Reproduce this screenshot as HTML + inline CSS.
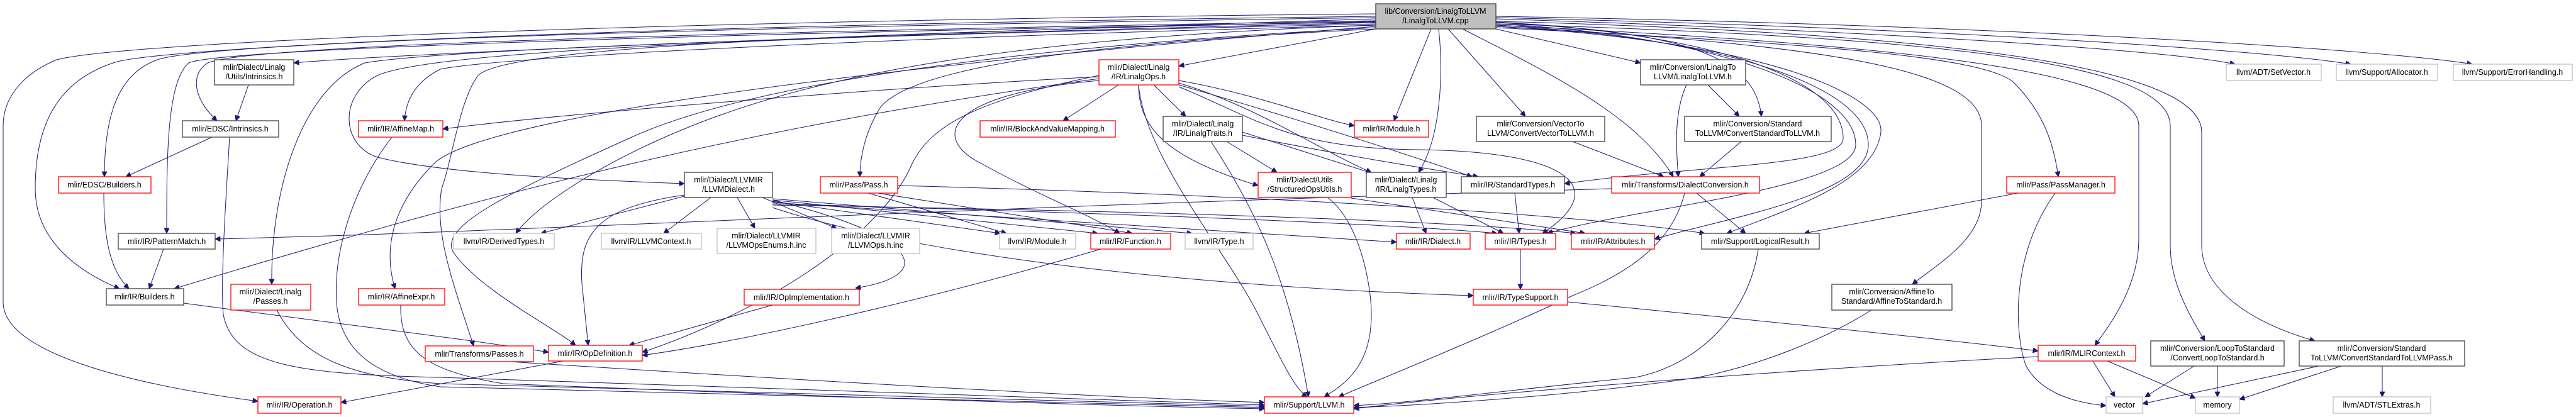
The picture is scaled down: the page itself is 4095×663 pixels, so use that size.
<!DOCTYPE html>
<html><head><meta charset="utf-8"><style>
html,body{margin:0;padding:0;background:#fff;}
svg{display:block;}
text{font-family:"Liberation Sans",Arial,sans-serif;font-size:12.5px;fill:#000;text-anchor:middle;}
.r{fill:#fff;stroke:#ff0000;stroke-width:1.3}
.b{fill:#fff;stroke:#404040;stroke-width:1.3}
.g{fill:#fff;stroke:#bfbfbf;stroke-width:1.3}
.m{fill:#bfbfbf;stroke:#404040;stroke-width:1.3}
path.e{fill:none;stroke:#191970;stroke-width:1;marker-end:url(#a)}
</style></head><body>
<svg width="4095" height="663" viewBox="0 0 4095 663" xmlns="http://www.w3.org/2000/svg">
<defs><marker id="a" viewBox="0 0 10 10" refX="10" refY="5" markerWidth="10" markerHeight="8" markerUnits="userSpaceOnUse" orient="auto"><path d="M0,0L10,5L0,10z" fill="#191970" stroke="#191970"/></marker></defs>
<g>
<!-- edges from main -->
<path class="e" d="M2187,30 C1700,45 700,80 467,100"/>
<path class="e" d="M2187,33 C1200,50 400,70 330,100 C300,120 310,160 345,192"/>
<path class="e" d="M2187,28 C1000,45 320,70 250,95 C180,120 166,200 166,281"/>
<path class="e" d="M2187,35 C1000,55 340,80 300,100 C265,130 265,250 265,371"/>
<path class="e" d="M2187,26 C1000,40 250,75 180,100 C90,130 56,200 56,300 C56,380 120,430 190,459"/>
<path class="e" d="M2187,22 C900,35 180,70 90,95 C30,120 5,160 5,200 L5,480 C5,560 200,610 410,638"/>
<path class="e" d="M2187,38 C1200,60 700,80 580,100 C480,140 430,300 432,452"/>
<path class="e" d="M2187,40 C1400,60 800,90 700,110 C660,130 645,160 643,192"/>
<path class="e" d="M2187,42 C1200,120 750,200 690,260 C620,330 610,400 628,459"/>
<path class="e" d="M2187,36 C1400,55 700,75 600,120 C540,150 540,230 600,250 C700,275 900,285 1088,292"/>
<path class="e" d="M2187,40 C1600,60 1300,120 1100,200 C950,260 850,330 820,371"/>
<path class="e" d="M2187,34 C1200,55 800,80 760,120 C730,160 720,250 702,300 C690,370 720,450 753,550"/>
<path class="e" d="M2187,44 C1500,80 1150,150 1000,220 C800,310 700,360 720,400 C760,460 880,520 915,549"/>
<path class="e" d="M2187,46 C1700,70 1450,110 1400,170 C1375,210 1367,250 1367,281"/>
<path class="e" d="M2187,46 L1874,105"/>
<path class="e" d="M2275,46 L2216,192"/>
<path class="e" d="M2287,46 C2295,120 2290,220 2255,274"/>
<path class="e" d="M2302,46 L2425,185"/>
<path class="e" d="M2325,46 C2450,110 2600,180 2660,281"/>
<path class="e" d="M2378,46 L2608,100"/>
<path class="e" d="M2378,35 C2650,50 2790,80 2800,185"/>
<path class="e" d="M2378,36 C2700,50 2930,120 2930,220 C2930,265 2700,262 2487,292"/>
<path class="e" d="M2378,38 C2720,55 2950,140 2950,230 C2950,300 2600,330 2460,371"/>
<path class="e" d="M2378,40 C2750,60 2970,140 2970,230 C2970,310 2750,345 2630,380"/>
<path class="e" d="M2378,42 C2800,65 2995,150 2990,210 C2980,290 2850,330 2745,371"/>
<path class="e" d="M2378,44 C2900,70 3150,90 3200,130 C3250,180 3265,230 3272,281"/>
<path class="e" d="M2378,42 C2900,70 3150,110 3150,200 L3150,320 C3150,380 3080,420 3040,452"/>
<path class="e" d="M2378,40 C3000,70 3400,110 3400,200 L3400,380 C3400,450 3360,510 3330,549"/>
<path class="e" d="M2378,38 C3100,60 3450,100 3450,200 L3450,390 C3450,450 3480,500 3505,542"/>
<path class="e" d="M2378,34 C3200,55 3500,120 3500,210 L3500,390 C3500,470 3600,520 3680,542"/>
<path class="e" d="M2378,30 C3000,50 3450,80 3553,102"/>
<path class="e" d="M2378,28 C3100,45 3600,80 3737,102"/>
<path class="e" d="M2378,26 C3200,40 3800,80 3930,102"/>
<!-- other edges -->
<path class="e" d="M395,135 L375,192"/>
<path class="e" d="M337,218 L200,281"/>
<path class="e" d="M365,218 C360,300 350,450 355,500 C370,580 470,595 700,600 C1200,620 1700,635 2010,644"/>
<path class="e" d="M165,307 C165,380 175,430 205,459"/>
<path class="e" d="M260,396 L237,459"/>
<path class="e" d="M292,482 C500,510 750,540 872,560"/>
<path class="e" d="M440,493 C480,570 560,600 700,610 C1200,625 1700,640 2010,646"/>
<path class="e" d="M623,218 C560,300 530,400 535,480 C540,560 600,600 700,615 C1200,630 1700,642 2010,648"/>
<path class="e" d="M637,485 C635,560 680,590 800,610 C1300,630 1700,644 2010,650"/>
<path class="e" d="M810,575 C1200,600 1700,630 2010,640"/>
<path class="e" d="M895,574 L542,640"/>
<path class="e" d="M1750,396 C1500,470 1200,540 1021,565"/>
<path class="e" d="M1228,485 L1000,549"/>
<path class="e" d="M1228,318 C1480,380 1480,440 1360,458"/>
<path class="e" d="M1088,312 L860,371"/>
<path class="e" d="M1130,314 L1055,371"/>
<path class="e" d="M1172,314 L1200,363"/>
<path class="e" d="M1212,314 L1330,363"/>
<path class="e" d="M1088,310 C950,330 920,370 925,450 L935,549"/>
<path class="e" d="M1228,320 L1590,371"/>
<path class="e" d="M1228,318 L1745,371"/>
<path class="e" d="M1228,316 L1895,371"/>
<path class="e" d="M1228,322 C1700,350 2000,370 2220,385"/>
<path class="e" d="M1228,324 C1800,340 2200,355 2380,371"/>
<path class="e" d="M1228,326 C1800,335 2300,350 2505,371"/>
<path class="e" d="M1228,330 C1500,420 2000,460 2342,470"/>
<path class="e" d="M1395,307 L1800,371"/>
<path class="e" d="M1427,295 C2000,310 2500,340 2710,371"/>
<path class="e" d="M1380,307 L1600,371"/>
<path class="e" d="M1747,122 C1400,140 900,180 704,205"/>
<path class="e" d="M1778,135 L1690,192"/>
<path class="e" d="M1834,135 L1885,185"/>
<path class="e" d="M1810,135 C1810,200 1850,250 2000,295"/>
<path class="e" d="M1747,128 C1500,150 1480,220 1560,260 C1650,310 1730,340 1780,371"/>
<path class="e" d="M1874,128 C2000,150 2100,190 2153,200"/>
<path class="e" d="M1874,132 C2000,170 2100,240 2180,274"/>
<path class="e" d="M1874,135 C2100,200 2250,250 2340,281"/>
<path class="e" d="M1874,138 C2000,190 2050,235 2250,238 C2500,240 2560,300 2452,371"/>
<path class="e" d="M1747,120 C1550,160 1480,200 1450,260 C1400,380 1200,500 1021,560"/>
<path class="e" d="M1747,125 C1200,200 800,300 277,459"/>
<path class="e" d="M2562,300 C1500,330 800,370 342,380"/>
<path class="e" d="M1810,135 C1820,250 1950,400 2000,500 C2040,580 2060,620 2078,631"/>
<path class="e" d="M1950,225 L2030,274"/>
<path class="e" d="M1975,215 C2150,250 2280,270 2350,281"/>
<path class="e" d="M1975,210 L2180,275"/>
<path class="e" d="M1925,225 C2000,340 2050,450 2080,631"/>
<path class="e" d="M2110,314 C2160,350 2180,450 2180,500 C2180,580 2140,610 2105,631"/>
<path class="e" d="M2148,315 L2520,371"/>
<path class="e" d="M2245,314 L2267,371"/>
<path class="e" d="M2278,314 L2390,371"/>
<path class="e" d="M2408,307 L2415,371"/>
<path class="e" d="M2417,396 L2417,460"/>
<path class="e" d="M2492,480 C2800,510 3100,540 3240,558"/>
<path class="e" d="M2500,225 L2645,281"/>
<path class="e" d="M2681,135 C2660,180 2665,240 2668,281"/>
<path class="e" d="M2715,135 L2765,185"/>
<path class="e" d="M2768,225 L2702,281"/>
<path class="e" d="M2697,307 L2775,371"/>
<path class="e" d="M2678,307 C2660,380 2600,430 2500,470 C2350,540 2200,600 2128,631"/>
<path class="e" d="M2795,396 C2780,500 2700,580 2600,600 C2400,620 2250,640 2152,645"/>
<path class="e" d="M3208,307 L2868,371"/>
<path class="e" d="M3267,307 C3200,400 3200,520 3220,580 C3240,620 3290,640 3348,645"/>
<path class="e" d="M2975,493 C2900,540 2800,580 2700,600 C2500,630 2250,645 2152,648"/>
<path class="e" d="M3240,567 C2800,590 2300,630 2152,650"/>
<path class="e" d="M3327,574 L3362,631"/>
<path class="e" d="M3350,574 L3490,633"/>
<path class="e" d="M3488,582 L3410,631"/>
<path class="e" d="M3525,582 L3525,631"/>
<path class="e" d="M3686,582 L3406,642"/>
<path class="e" d="M3722,582 L3560,635"/>
<path class="e" d="M3787,582 L3787,631"/>
</g>
<g>
<!-- nodes -->
<rect class="m" x="2187" y="6" width="191" height="40"/><text x="2282" y="22">lib/Conversion/LinalgToLLVM</text><text x="2282" y="37">/LinalgToLLVM.cpp</text>
<rect class="b" x="341" y="95" width="126" height="40"/><text x="404" y="111">mlir/Dialect/Linalg</text><text x="404" y="126">/Utils/Intrinsics.h</text>
<rect class="b" x="290" y="192" width="153" height="26"/><text x="366" y="209">mlir/EDSC/Intrinsics.h</text>
<rect class="r" x="93" y="281" width="147" height="26"/><text x="166" y="298">mlir/EDSC/Builders.h</text>
<rect class="b" x="188" y="371" width="154" height="25"/><text x="265" y="388">mlir/IR/PatternMatch.h</text>
<rect class="b" x="169" y="459" width="123" height="26"/><text x="230" y="476">mlir/IR/Builders.h</text>
<rect class="r" x="367" y="452" width="127" height="41"/><text x="430" y="468">mlir/Dialect/Linalg</text><text x="430" y="483">/Passes.h</text>
<rect class="r" x="570" y="192" width="134" height="26"/><text x="637" y="209">mlir/IR/AffineMap.h</text>
<rect class="r" x="570" y="459" width="137" height="26"/><text x="638" y="476">mlir/IR/AffineExpr.h</text>
<rect class="r" x="410" y="631" width="132" height="26"/><text x="476" y="648">mlir/IR/Operation.h</text>
<rect class="r" x="676" y="550" width="172" height="25"/><text x="762" y="567">mlir/Transforms/Passes.h</text>
<rect class="b" x="1088" y="274" width="140" height="40"/><text x="1158" y="290">mlir/Dialect/LLVMIR</text><text x="1158" y="305">/LLVMDialect.h</text>
<rect class="g" x="721" y="371" width="160" height="25"/><text x="801" y="388">llvm/IR/DerivedTypes.h</text>
<rect class="g" x="956" y="371" width="159" height="25"/><text x="1035" y="388">llvm/IR/LLVMContext.h</text>
<rect class="g" x="1140" y="363" width="157" height="40"/><text x="1218" y="379">mlir/Dialect/LLVMIR</text><text x="1218" y="394">/LLVMOpsEnums.h.inc</text>
<rect class="g" x="1322" y="363" width="140" height="40"/><text x="1392" y="379">mlir/Dialect/LLVMIR</text><text x="1392" y="394">/LLVMOps.h.inc</text>
<rect class="r" x="1304" y="281" width="123" height="26"/><text x="1365" y="298">mlir/Pass/Pass.h</text>
<rect class="r" x="1183" y="460" width="183" height="25"/><text x="1274" y="477">mlir/IR/OpImplementation.h</text>
<rect class="r" x="872" y="549" width="149" height="25"/><text x="946" y="566">mlir/IR/OpDefinition.h</text>
<rect class="r" x="1747" y="95" width="127" height="40"/><text x="1810" y="111">mlir/Dialect/Linalg</text><text x="1810" y="126">/IR/LinalgOps.h</text>
<rect class="r" x="1558" y="192" width="215" height="26"/><text x="1665" y="209">mlir/IR/BlockAndValueMapping.h</text>
<rect class="b" x="1849" y="185" width="126" height="40"/><text x="1912" y="201">mlir/Dialect/Linalg</text><text x="1912" y="216">/IR/LinalgTraits.h</text>
<rect class="r" x="2000" y="274" width="148" height="40"/><text x="2074" y="290">mlir/Dialect/Utils</text><text x="2074" y="305">/StructuredOpsUtils.h</text>
<rect class="g" x="1589" y="371" width="121" height="25"/><text x="1649" y="388">llvm/IR/Module.h</text>
<rect class="r" x="1734" y="371" width="127" height="25"/><text x="1797" y="388">mlir/IR/Function.h</text>
<rect class="g" x="1884" y="371" width="108" height="25"/><text x="1938" y="388">llvm/IR/Type.h</text>
<rect class="r" x="2010" y="631" width="142" height="26"/><text x="2081" y="648">mlir/Support/LLVM.h</text>
<rect class="r" x="2153" y="192" width="118" height="26"/><text x="2212" y="209">mlir/IR/Module.h</text>
<rect class="b" x="2347" y="185" width="204" height="40"/><text x="2449" y="201">mlir/Conversion/VectorTo</text><text x="2449" y="216">LLVM/ConvertVectorToLLVM.h</text>
<rect class="b" x="2608" y="95" width="167" height="40"/><text x="2691" y="111">mlir/Conversion/LinalgTo</text><text x="2691" y="126">LLVM/LinalgToLLVM.h</text>
<rect class="b" x="2678" y="185" width="233" height="40"/><text x="2794" y="201">mlir/Conversion/Standard</text><text x="2794" y="216">ToLLVM/ConvertStandardToLLVM.h</text>
<rect class="b" x="2172" y="274" width="127" height="40"/><text x="2235" y="290">mlir/Dialect/Linalg</text><text x="2235" y="305">/IR/LinalgTypes.h</text>
<rect class="b" x="2323" y="281" width="164" height="26"/><text x="2405" y="298">mlir/IR/StandardTypes.h</text>
<rect class="r" x="2562" y="281" width="235" height="26"/><text x="2679" y="298">mlir/Transforms/DialectConversion.h</text>
<rect class="r" x="2220" y="371" width="117" height="25"/><text x="2278" y="388">mlir/IR/Dialect.h</text>
<rect class="r" x="2361" y="371" width="112" height="25"/><text x="2417" y="388">mlir/IR/Types.h</text>
<rect class="r" x="2498" y="371" width="132" height="25"/><text x="2564" y="388">mlir/IR/Attributes.h</text>
<rect class="b" x="2705" y="371" width="187" height="25"/><text x="2798" y="388">mlir/Support/LogicalResult.h</text>
<rect class="r" x="2342" y="460" width="150" height="25"/><text x="2417" y="477">mlir/IR/TypeSupport.h</text>
<rect class="r" x="3190" y="281" width="172" height="26"/><text x="3276" y="298">mlir/Pass/PassManager.h</text>
<rect class="b" x="2912" y="452" width="191" height="41"/><text x="3007" y="468">mlir/Conversion/AffineTo</text><text x="3007" y="483">Standard/AffineToStandard.h</text>
<rect class="r" x="3240" y="549" width="155" height="25"/><text x="3317" y="566">mlir/IR/MLIRContext.h</text>
<rect class="b" x="3419" y="542" width="212" height="40"/><text x="3525" y="558">mlir/Conversion/LoopToStandard</text><text x="3525" y="573">/ConvertLoopToStandard.h</text>
<rect class="b" x="3655" y="542" width="263" height="40"/><text x="3786" y="558">mlir/Conversion/Standard</text><text x="3786" y="573">ToLLVM/ConvertStandardToLLVMPass.h</text>
<rect class="g" x="3348" y="631" width="58" height="26"/><text x="3377" y="648">vector</text>
<rect class="g" x="3490" y="631" width="70" height="26"/><text x="3525" y="648">memory</text>
<rect class="g" x="3709" y="631" width="155" height="26"/><text x="3786" y="648">llvm/ADT/STLExtras.h</text>
<rect class="g" x="3539" y="102" width="151" height="26"/><text x="3614" y="119">llvm/ADT/SetVector.h</text>
<rect class="g" x="3714" y="102" width="161" height="26"/><text x="3794" y="119">llvm/Support/Allocator.h</text>
<rect class="g" x="3900" y="102" width="189" height="26"/><text x="3994" y="119">llvm/Support/ErrorHandling.h</text>
</g>
</svg>
</body></html>
